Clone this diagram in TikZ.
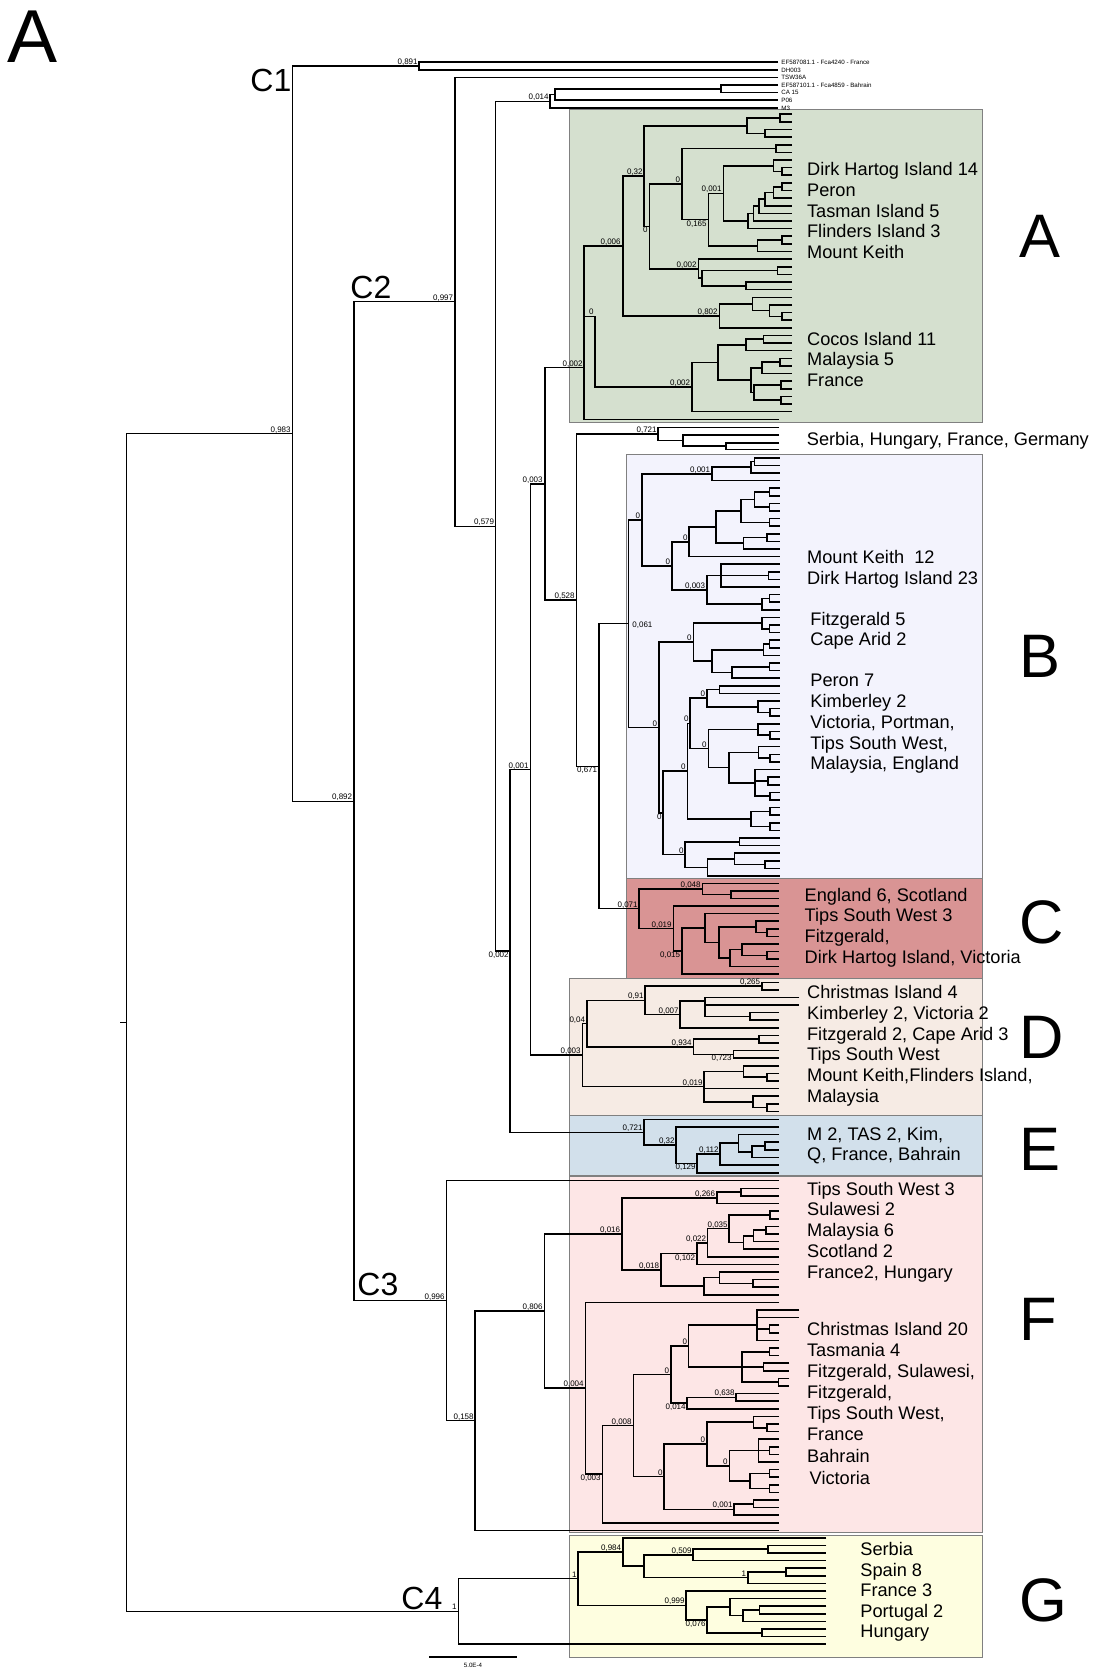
\documentclass[tikz,border=0pt]{standalone}
\usepackage{fontspec}
\setmainfont{Liberation Sans}
\definecolor{boxA}{RGB}{213,224,207}
\definecolor{boxB}{RGB}{243,243,253}
\definecolor{boxC}{RGB}{217,148,148}
\definecolor{boxD}{RGB}{246,235,228}
\definecolor{boxE}{RGB}{210,224,235}
\definecolor{boxF}{RGB}{253,230,230}
\definecolor{boxG}{RGB}{254,254,224}
\definecolor{boxedge}{RGB}{128,128,128}
\newcommand\yL[1]{#1}
\newcommand\yT[1]{62.3+7.6*(#1)}
\newcommand\yA[1]{114.3+7.625*(#1)}
\newcommand\yB[1]{457.7+7.605*(#1)}
\newcommand\yC[1]{883.3+7.58*(#1)}
\newcommand\yD[1]{982.3+7.59*(#1)}
\newcommand\yE[1]{1119.3+7.63*(#1)}
\newcommand\yF[1]{1180.7+7.6*(#1)}
\newcommand\yG[1]{1537.7+7.6*(#1)}
\newcommand\brn[6]{\draw[tr] ({#3},{#1{#4}}) -| ({#2},{#1{#6}}) -- ({#5},{#1{#6}});}
\newcommand\hln[4]{\draw[tr] ({#2},{#1{#3}}) -- ({#4},{#1{#3}});}
\newcommand\sva[4]{\node[svl,anchor=base east] at ({#2},{#1{#3}-1.5}) {#4};}
\newcommand\svb[4]{\node[svl,anchor=base east] at ({#2},{#1{#3}+6.5}) {#4};}
\newcommand\tlab[3]{\node[lab] at (#1,#2) {#3};}
\begin{document}
\begin{tikzpicture}[x=0.5pt,y=-0.5pt,
  tr/.style={line width=0.8pt},
  svl/.style={font=\fontsize{4}{5}\selectfont,inner sep=0pt},
  tiplab/.style={font=\fontsize{3.1}{3.7}\selectfont,inner sep=0pt,anchor=west},
  lab/.style={font=\fontsize{9.1}{10.4}\selectfont,anchor=base west,inner sep=0pt},
  big/.style={font=\fontsize{30.7}{34}\selectfont,anchor=base west,inner sep=0pt},
  clab/.style={font=\fontsize{16}{18}\selectfont,anchor=base west,inner sep=0pt},
  gbox/.style={draw=boxedge,line width=0.5pt}]
\useasboundingbox (0,0) rectangle (1098,1669);
\fill[white] (0,0) rectangle (1098,1669);
% boxes
\filldraw[gbox,fill=boxA] (569.3,110) rectangle (982,422.3);
\filldraw[gbox,fill=boxB] (626,454) rectangle (982,878.3);
\filldraw[gbox,fill=boxC] (626,878.3) rectangle (982,978.3);
\filldraw[gbox,fill=boxD] (569.3,978.3) rectangle (982,1115);
\filldraw[gbox,fill=boxE] (569.3,1115.7) rectangle (982,1175.3);
\filldraw[gbox,fill=boxF] (569.3,1176) rectangle (982,1532);
\filldraw[gbox,fill=boxG] (569.3,1535) rectangle (982,1657.7);
% backbone
\begin{scope}[tr/.style={line width=0.65pt}]
\draw[tr] (120,1022.5) -- (126.6,1022.5);
\brn\yL{126.6}{292.6}{433.7}{458.2}{1611.4}
\brn\yL{292.6}{419}{66.1}{354}{801.2}
\brn\yL{354}{455}{301.8}{446.6}{1300.7}
\brn\yL{455}{778}{77.3}{495.7}{526.2}
\brn\yL{495.7}{550}{101.25}{510}{950.9}
\brn\yL{510}{530.5}{769.6}{644}{1132.2}
\brn\yL{530.5}{545}{483.9}{582.3}{1055.1}
\brn\yL{545}{584}{367.8}{576.7}{600}
\brn\yL{576.7}{658}{433.9}{599}{766.25}
\brn\yL{599}{628.3}{623.7}{639}{908.8}
\brn\yF{446.6}{779}{0}{475}{31.57}
\brn\yF{475}{544.6}{17.15}{779}{46}
\brn\yG{458.2}{578.2}{5.39}{826.4}{14}
\end{scope}
\brn\yT{419}{778}{0}{778}{1}
\brn\yT{550}{555}{4.25}{778}{6}
\brn\yT{555}{721}{3.5}{778}{5}
\brn\yT{721}{778}{3}{778}{4}
\brn\yL{658}{779}{427.3}{683}{440.5}
\brn\yL{683}{779}{435}{726}{446}
\brn\yL{726}{779}{442.7}{779}{449.3}
% group A
\brn\yA{780}{792}{0}{792}{1}
\brn\yA{765}{792}{2}{792}{3}
\brn\yA{746.7}{780}{0.5}{765}{2.5}
\brn\yA{776}{792}{4}{792}{5}
\brn\yA{781.7}{792}{7}{792}{8}
\brn\yA{773.3}{792}{6}{781.7}{7.5}
\brn\yA{781.7}{792}{9}{792}{10}
\brn\yA{773.3}{781.7}{9.5}{792}{11}
\brn\yA{765}{773.3}{10.25}{792}{12}
\brn\yA{759}{765}{11.125}{792}{13}
\brn\yA{753.3}{759}{12.0625}{792}{14}
\brn\yA{747.7}{753.3}{13.03}{792}{15}
\brn\yA{723.3}{773.3}{6.75}{747.7}{14.02}
\brn\yA{781.7}{792}{16}{792}{17}
\brn\yA{757.3}{781.7}{16.5}{792}{18}
\brn\yA{708.3}{723.3}{10.385}{757.3}{17.25}
\brn\yA{681.7}{776}{4.5}{708.3}{13.82}
\brn\yA{777.3}{792}{20}{792}{21}
\brn\yA{746}{792}{22}{792}{23}
\brn\yA{701.7}{777.3}{20.5}{746}{22.5}
\brn\yA{698.3}{792}{19}{701.7}{21.5}
\brn\yA{649.3}{681.7}{9.16}{698.3}{20.25}
\brn\yA{644}{746.7}{1.5}{649.3}{14.7}
\brn\yA{781.7}{792}{26}{792}{27}
\brn\yA{769.3}{792}{25}{781.7}{26.5}
\brn\yA{752.3}{792}{24}{769.3}{25.75}
\brn\yA{719.3}{752.3}{24.875}{792}{28}
\brn\yA{622.7}{644}{8.1}{719.3}{26.44}
\brn\yA{763.3}{792}{29}{792}{30}
\brn\yA{746}{763.3}{29.5}{792}{31}
\brn\yA{780}{792}{32}{792}{33}
\brn\yA{761.7}{780}{32.5}{792}{34}
\brn\yA{780.7}{792}{35}{792}{36}
\brn\yA{780.7}{792}{37}{792}{38}
\brn\yA{754}{780.7}{35.5}{780.7}{37.5}
\brn\yA{750.7}{761.7}{33.25}{754}{36.5}
\brn\yA{717.7}{746}{30.25}{750.7}{34.875}
\brn\yA{691.7}{717.7}{32.56}{792}{39}
\brn\yA{584}{622.7}{17.27}{779}{40}
\draw[tr] ({584},{\yA{26.5}}) -- ({595},{\yA{26.5}}) |- ({691.7},{\yA{35.78}});
% group B
\brn\yB{754.3}{779.5}{0}{779.5}{1}
\brn\yB{750.7}{754.3}{0.5}{779.5}{2}
\brn\yB{711.7}{750.7}{1.25}{779.5}{3}
\brn\yB{769.3}{779.5}{4}{779.5}{5}
\brn\yB{769.3}{779.5}{6}{779.5}{7}
\brn\yB{754.3}{769.3}{4.5}{769.3}{6.5}
\brn\yB{769.3}{779.5}{8}{779.5}{9}
\brn\yB{741}{754.3}{5.5}{769.3}{8.5}
\brn\yB{766.7}{779.5}{10}{779.5}{11}
\brn\yB{743.3}{766.7}{10.5}{779.5}{12}
\brn\yB{716}{741}{7}{743.3}{11.25}
\brn\yB{689}{716}{9.125}{779.5}{13}
\brn\yB{768.3}{779.5}{15}{779.5}{16}
\brn\yB{721}{779.5}{14}{779.5}{17}
\hln\yB{721}{15.5}{768.3}
\brn\yB{769.3}{779.5}{18}{779.5}{19}
\brn\yB{761.7}{769.3}{18.5}{779.5}{20}
\brn\yB{706.7}{721}{15.5}{761.7}{19.25}
\brn\yB{671.7}{689}{11.06}{706.7}{17.375}
\brn\yB{641.7}{711.7}{2.125}{671.7}{14.22}
\brn\yB{769.3}{779.5}{22}{779.5}{23}
\brn\yB{761.7}{779.5}{21}{769.3}{22.5}
\brn\yB{769.3}{779.5}{24}{779.5}{25}
\brn\yB{763.3}{769.3}{24.5}{779.5}{26}
\brn\yB{769.3}{779.5}{27}{779.5}{28}
\brn\yB{731.7}{769.3}{27.5}{779.5}{29}
\brn\yB{711.7}{763.3}{25.25}{731.7}{28.25}
\brn\yB{693.3}{761.7}{21.75}{711.7}{26.75}
\brn\yB{719.3}{779.5}{30}{779.5}{31}
\brn\yB{770}{779.5}{33}{779.5}{34}
\brn\yB{757.7}{779.5}{32}{770}{33.5}
\brn\yB{706.7}{719.3}{30.5}{757.7}{32.75}
\brn\yB{770}{779.5}{36}{779.5}{37}
\brn\yB{757.7}{779.5}{35}{770}{36.5}
\brn\yB{770}{779.5}{39}{779.5}{40}
\brn\yB{758.3}{779.5}{38}{770}{39.5}
\brn\yB{767.7}{779.5}{42}{779.5}{43}
\brn\yB{770}{779.5}{44}{779.5}{45}
\brn\yB{755}{779.5}{41}{770}{44.5}
\hln\yB{755}{42.5}{767.7}
\brn\yB{729}{758.3}{38.75}{755}{42.75}
\brn\yB{708.3}{757.7}{35.75}{729}{40.75}
\brn\yB{690}{706.7}{31.625}{708.3}{38.25}
\brn\yB{770}{779.5}{46}{779.5}{47}
\brn\yB{770}{779.5}{48}{779.5}{49}
\brn\yB{751}{770}{46.5}{770}{48.5}
\brn\yB{687.3}{690}{34.94}{751}{47.5}
\brn\yB{739.3}{779.5}{50}{779.5}{51}
\brn\yB{765}{779.5}{53}{779.5}{54}
\brn\yB{734.3}{779.5}{52}{765}{53.5}
\brn\yB{707.3}{734.3}{52.75}{779.5}{55}
\brn\yB{685}{739.3}{50.5}{707.3}{53.875}
\brn\yB{662.7}{687.3}{41.22}{685}{52.19}
\brn\yB{658.7}{693.3}{24.25}{662.7}{46.7}
\brn\yB{628.3}{641.7}{8.17}{658.7}{35.48}
% group C
\brn\yC{731}{779}{1}{779}{2}
\brn\yC{702.3}{779}{0}{731}{1.5}
\brn\yC{766.7}{779}{6}{779}{7}
\brn\yC{756}{779}{5}{766.7}{6.5}
\brn\yC{766.7}{779}{9}{779}{10}
\brn\yC{741.7}{779}{8}{766.7}{9.5}
\brn\yC{730}{741.7}{8.75}{779}{11}
\brn\yC{719}{756}{5.75}{730}{9.875}
\brn\yC{705}{779}{4}{719}{7.8125}
\brn\yC{681.7}{705}{5.906}{779}{12}
\brn\yC{673.3}{779}{3}{681.7}{8.953}
\brn\yC{639}{702.3}{0.75}{673.3}{5.977}
% group D
\brn\yD{761.7}{779}{0}{779}{1}
\brn\yD{750}{779}{4}{779}{5}
\brn\yD{705}{799.3}{2}{750}{4.5}
\hln\yD{705}{3}{799.3}
\brn\yD{680}{705}{2.5}{779}{6}
\brn\yD{645}{761.7}{0.5}{680}{4.25}
\brn\yD{759}{779}{7}{779}{8}
\brn\yD{733.3}{779}{9}{779}{10}
\brn\yD{693.3}{759}{7.5}{733.3}{9.5}
\brn\yD{586.7}{645}{2.375}{693.3}{8.5}
\brn\yD{766.7}{779}{12}{779}{13}
\brn\yD{743.3}{779}{11}{766.7}{12.5}
\brn\yD{766.7}{779}{16}{779}{17}
\brn\yD{752.7}{779}{15}{766.7}{16.5}
\brn\yD{704}{743.3}{11.75}{752.7}{15.75}
\hln\yD{704}{14}{779}
\brn\yD{582.3}{586.7}{5.4375}{704}{13.75}
% group E
\brn\yE{765}{779}{3}{779}{4}
\brn\yE{751.7}{765}{3.5}{779}{5}
\brn\yE{738.3}{779}{2}{751.7}{4.25}
\brn\yE{720}{738.3}{3.125}{779}{6}
\brn\yE{696.7}{720}{4.5625}{779}{7}
\brn\yE{676}{779}{1}{696.7}{5.78}
\brn\yE{644}{779}{0}{676}{3.39}
% group F
\brn\yF{740.7}{779}{1}{779}{2}
\brn\yF{716.7}{740.7}{1.5}{779}{3}
\brn\yF{770}{779}{4}{779}{5}
\brn\yF{766}{779}{6}{779}{7}
\brn\yF{753.3}{766}{6.5}{779}{8}
\brn\yF{743.3}{753.3}{7.25}{779}{9}
\brn\yF{729}{770}{4.5}{743.3}{8.125}
\brn\yF{707.3}{729}{6.3125}{779}{10}
\brn\yF{696.7}{707.3}{8.156}{779}{11}
\brn\yF{752.7}{779}{13}{779}{14}
\brn\yF{719.3}{779}{12}{752.7}{13.5}
\brn\yF{704}{719.3}{12.75}{779}{15}
\brn\yF{660.7}{696.7}{9.578}{704}{13.875}
\brn\yF{621.7}{716.7}{2.25}{660.7}{11.727}
\brn\yF{769.3}{779}{19}{779}{20}
\brn\yF{756.7}{799.3}{17}{779}{21}
\hln\yF{756.7}{18}{799.3}
\hln\yF{756.7}{19.5}{769.3}
\brn\yF{769.3}{779}{22}{779}{23}
\brn\yF{763.3}{789.3}{24}{789.3}{25}
\brn\yF{778.3}{789.3}{26}{789.3}{27}
\brn\yF{741.7}{769.3}{22.5}{778.3}{26.5}
\hln\yF{741.7}{24.5}{763.3}
\brn\yF{688.3}{756.7}{19}{741.7}{24.5}
\brn\yF{736}{779}{28}{779}{29}
\brn\yF{686.7}{736}{28.5}{779}{30}
\brn\yF{670.7}{688.3}{21.75}{686.7}{29.25}
\brn\yF{766.7}{779}{32}{779}{33}
\brn\yF{753.3}{779}{31}{766.7}{32.5}
\brn\yF{769.3}{779}{35}{779}{36}
\brn\yF{758.3}{779}{34}{779}{37}
\hln\yF{758.3}{35.5}{769.3}
\brn\yF{769.3}{779}{38}{779}{39}
\brn\yF{769.3}{779}{40}{779}{41}
\brn\yF{750}{769.3}{38.5}{769.3}{40.5}
\brn\yF{729.3}{758.3}{35.5}{750}{39.5}
\brn\yF{706.7}{753.3}{31.75}{729.3}{37.5}
\brn\yF{753.3}{779}{42}{779}{43}
\brn\yF{734}{753.3}{42.5}{779}{44}
\brn\yF{664}{706.7}{34.625}{734}{43.25}
\brn\yF{633.3}{670.7}{25.5}{664}{38.94}
\brn\yF{602.3}{633.3}{32.22}{779}{45}
\brn\yF{585.3}{779}{16}{602.3}{38.61}
\brn\yF{544.6}{621.7}{6.988}{585.3}{27.305}
% group G
\brn\yG{768.2}{826.4}{1}{826.4}{2}
\brn\yG{693.2}{768.2}{1.5}{826.4}{3}
\brn\yG{786}{826.4}{4}{826.4}{5}
\brn\yG{747.9}{786}{4.5}{826.4}{6}
\brn\yG{644}{693.2}{2.25}{747.9}{5.25}
\brn\yG{622.9}{826.4}{0}{644}{3.75}
\brn\yG{759.3}{826.4}{9}{826.4}{10}
\brn\yG{743.2}{759.3}{9.5}{826.4}{11}
\brn\yG{730}{826.4}{8}{743.2}{10.25}
\brn\yG{762.1}{826.4}{12}{826.4}{13}
\brn\yG{706.8}{730}{9.125}{762.1}{12.5}
\brn\yG{686}{826.4}{7}{706.8}{10.81}
\brn\yG{578.2}{622.9}{1.875}{686}{8.906}
% scale bar
\draw[line width=0.8pt] (429,1656.7) -- (517,1656.7);
\node[tiplab,anchor=base] at (473,1667) {5.0E-4};
% support values
\sva\yL{291}{433.7}{0,983}
\sva\yL{418}{66.1}{0,891}
\sva\yL{549}{101.25}{0,014}
\sva\yL{453.5}{301.8}{0,997}
\sva\yL{352.5}{801.2}{0,892}
\sva\yL{494.5}{526.2}{0,579}
\sva\yL{543}{483.9}{0,003}
\sva\yL{575}{600}{0,528}
\sva\yL{529}{769.6}{0,001}
\svb\yL{509}{950.9}{0,002}
\svb\yL{597.5}{766.25}{0,671}
\sva\yL{657}{433.9}{0,721}
\sva\yL{445}{1300.7}{0,996}
\sva\yL{474}{1420.6}{0,158}
\sva\yL{457}{1611.4}{1}
\sva\yA{583}{33.25}{0,002}
\sva\yA{621}{17.27}{0,006}
\sva\yA{643}{8.1}{0,32}
\svb\yA{648}{14.7}{0}
\sva\yA{680.5}{9.16}{0}
\sva\yA{722}{10.385}{0,001}
\svb\yA{707}{13.82}{0,165}
\sva\yA{697}{20.25}{0,002}
\sva\yA{718}{26.44}{0,802}
\sva\yA{594}{26.5}{0}
\sva\yA{690.5}{35.78}{0,002}
\sva\yB{710.5}{2.125}{0,001}
\sva\yB{640.5}{8.17}{0}
\sva\yB{688}{11.06}{0}
\sva\yB{670.5}{14.22}{0}
\sva\yB{705.5}{17.375}{0,003}
\node[svl,anchor=base west] at (632,627.5) {0,061};
\sva\yB{692}{24.25}{0}
\sva\yB{657.5}{35.48}{0}
\sva\yB{689}{34.94}{0}
\sva\yB{705.5}{31.625}{0}
\sva\yB{707}{38.25}{0}
\sva\yB{686}{41.22}{0}
\svb\yB{662}{46.7}{0}
\sva\yB{684}{52.19}{0}
\sva\yC{701}{0.75}{0,048}
\sva\yC{638}{3.363}{0,071}
\sva\yC{672}{5.977}{0,019}
\svb\yC{680.5}{8.953}{0,015}
\sva\yD{760.5}{0.5}{0,265}
\sva\yD{644}{2.375}{0,91}
\sva\yD{679}{4.25}{0,007}
\sva\yD{585.5}{5.4375}{0,04}
\sva\yD{692}{8.5}{0,934}
\svb\yD{732}{9.5}{0,723}
\sva\yD{703}{13.75}{0,019}
\sva\yD{581}{9.59}{0,003}
\sva\yE{643}{1.695}{0,721}
\sva\yE{675}{3.39}{0,32}
\sva\yE{719}{4.5625}{0,112}
\svb\yE{696}{5.78}{0,129}
\sva\yF{620.5}{6.988}{0,016}
\sva\yF{715.5}{2.25}{0,266}
\sva\yF{728}{6.3125}{0,035}
\sva\yF{706.5}{8.156}{0,022}
\svb\yF{695.5}{9.578}{0,102}
\sva\yF{659.5}{11.727}{0,018}
\sva\yF{543}{17.15}{0,806}
\sva\yF{584}{27.305}{0,004}
\sva\yF{669.5}{25.5}{0}
\sva\yF{687.5}{21.75}{0}
\sva\yF{735}{28.5}{0,638}
\svb\yF{686}{29.25}{0,014}
\sva\yF{632}{32.22}{0,008}
\sva\yF{705.5}{34.625}{0}
\sva\yF{728}{37.5}{0}
\sva\yF{663}{38.94}{0}
\sva\yF{733}{43.25}{0,001}
\svb\yF{601}{38.61}{0,003}
\sva\yG{621.5}{1.875}{0,984}
\sva\yG{577}{5.39}{1}
\sva\yG{692}{2.25}{0,509}
\sva\yG{746.5}{5.25}{1}
\sva\yG{685}{8.906}{0,999}
\svb\yG{706}{10.81}{0,076}
% tiny tip labels
\node[tiplab] at (781,{\yT{0}}) {EF587081.1 - Fca4240 - France};
\node[tiplab] at (781,{\yT{1}}) {DH003};
\node[tiplab] at (781,{\yT{2}}) {TSW36A};
\node[tiplab] at (781,{\yT{3}}) {EF587101.1 - Fca4859 - Bahrain};
\node[tiplab] at (781,{\yT{4}}) {CA 15};
\node[tiplab] at (781,{\yT{5}}) {P06};
\node[tiplab] at (781,{\yT{6}}) {M3};
% clade texts
\tlab{806.7}{176}{Dirk Hartog Island 14}
\tlab{806.7}{196.7}{Peron}
\tlab{806.7}{217.3}{Tasman Island 5}
\tlab{806.7}{237.7}{Flinders Island 3}
\tlab{806.7}{258.3}{Mount Keith}
\tlab{806.7}{345}{Cocos Island 11}
\tlab{806.7}{365.7}{Malaysia 5}
\tlab{806.7}{386}{France}
\tlab{806.5}{445}{Serbia, Hungary, France, Germany}
\tlab{806.7}{563.3}{Mount Keith\ \ 12}
\tlab{806.7}{584}{Dirk Hartog Island 23}
\tlab{810}{625}{Fitzgerald 5}
\tlab{810}{645.7}{Cape Arid 2}
\tlab{810}{686.7}{Peron 7}
\tlab{810}{707.3}{Kimberley 2}
\tlab{810}{728.3}{Victoria, Portman,}
\tlab{810}{749}{Tips South West,}
\tlab{810}{769.3}{Malaysia, England}
\tlab{804.3}{901}{England 6, Scotland}
\tlab{804.3}{921.7}{Tips South West 3}
\tlab{804.3}{942.3}{Fitzgerald,}
\tlab{804.3}{963.3}{Dirk Hartog Island, Victoria}
\tlab{806.7}{998.3}{Christmas Island 4}
\tlab{806.7}{1019.3}{Kimberley 2, Victoria 2}
\tlab{806.7}{1040}{Fitzgerald 2, Cape Arid 3}
\tlab{806.7}{1060.7}{Tips South West}
\tlab{806.7}{1081.7}{Mount Keith,Flinders Island,}
\tlab{806.7}{1102.3}{Malaysia}
\tlab{806.7}{1140}{M 2, TAS 2, Kim,}
\tlab{806.7}{1160.7}{Q, France, Bahrain}
\tlab{806.7}{1195}{Tips South West 3}
\tlab{806.7}{1215.7}{Sulawesi 2}
\tlab{806.7}{1236.7}{Malaysia 6}
\tlab{806.7}{1257.3}{Scotland 2}
\tlab{806.7}{1278.3}{France2, Hungary}
\tlab{806.7}{1335.7}{Christmas Island 20}
\tlab{806.7}{1356.7}{Tasmania 4}
\tlab{806.7}{1377.3}{Fitzgerald, Sulawesi,}
\tlab{806.7}{1398.3}{Fitzgerald,}
\tlab{806.7}{1419}{Tips South West,}
\tlab{806.7}{1440}{France}
\tlab{806.7}{1462.7}{Bahrain}
\tlab{809.3}{1484}{Victoria}
\tlab{860}{1555}{Serbia}
\tlab{860}{1576}{Spain 8}
\tlab{860}{1596.7}{France 3}
\tlab{860}{1617.3}{Portugal 2}
\tlab{860}{1637.7}{Hungary}
% group letters
\node[big] at (1019,257.5) {A};
\node[big] at (1019,677.8) {B};
\node[big] at (1019,943.8) {C};
\node[big] at (1019,1058.7) {D};
\node[big] at (1019,1170.4) {E};
\node[big] at (1019,1340.6) {F};
\node[big] at (1019,1621.6) {G};
\node[font=\fontsize{37.5}{40}\selectfont,anchor=base west,inner sep=0pt] at (7,63) {A};
\node[clab] at (250,92) {C1};
\node[clab] at (350,298.5) {C2};
\node[clab] at (357,1295) {C3};
\node[clab] at (401,1609.8) {C4};
\end{tikzpicture}
\end{document}
